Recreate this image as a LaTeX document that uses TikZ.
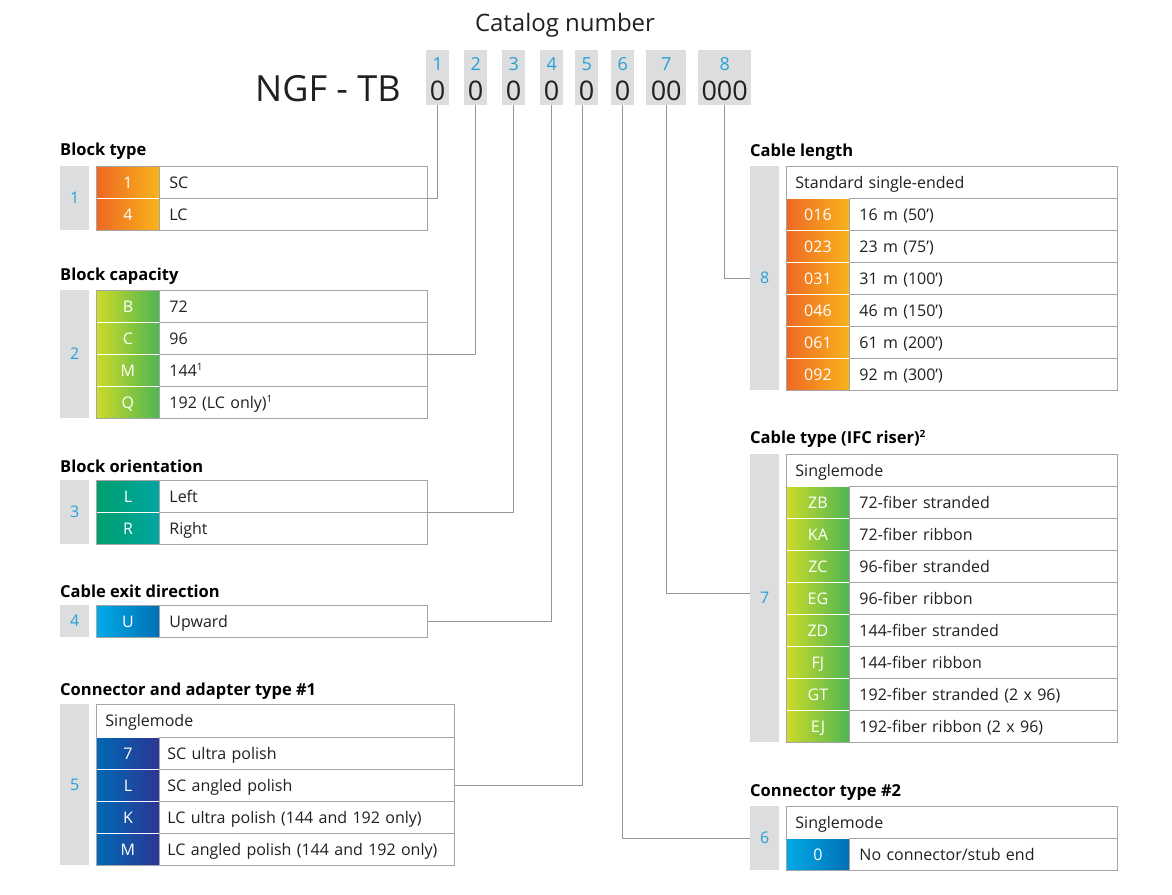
\documentclass[tikz,border=0pt]{standalone}
\usepackage{fontspec}
\setmainfont{Open Sans}
\usetikzlibrary{calc}
\definecolor{stripgray}{RGB}{220,221,222}
\definecolor{numblue}{RGB}{40,160,215}
\definecolor{tblgray}{RGB}{165,165,165}
\definecolor{conngray}{RGB}{150,150,150}
\definecolor{txt}{RGB}{35,31,32}
\definecolor{orL}{RGB}{238,104,36}
\definecolor{orR}{RGB}{249,180,28}
\definecolor{grL}{RGB}{205,219,40}
\definecolor{grR}{RGB}{76,181,84}
\definecolor{teL}{RGB}{0,158,110}
\definecolor{teR}{RGB}{0,166,160}
\definecolor{blL}{RGB}{0,170,230}
\definecolor{blR}{RGB}{0,112,182}
\definecolor{dbL}{RGB}{0,104,180}
\definecolor{dbR}{RGB}{44,54,146}
\tikzset{
  x=1pt, y=-1pt,
  code/.style={anchor=north west, minimum width=63pt, minimum height=32pt, inner sep=0pt,
    text height=12pt, text depth=0pt,
    text=white, font=\fontsize{16}{20}\selectfont, draw=white, line width=0.9pt},
  orange/.style={left color=orL, right color=orR},
  green/.style={left color=grL, right color=grR},
  teal/.style={left color=teL, right color=teR},
  lblue/.style={left color=blL, right color=blR},
  dblue/.style={left color=dbL, right color=dbR},
  descL/.style={anchor=north west, minimum width=268pt, minimum height=32pt, text width=248pt,
    text height=12pt, text depth=0pt,
    inner xsep=10pt, inner ysep=0pt, align=left, draw=tblgray, line width=0.9pt, text=txt,
    font=\fontsize{16}{20}\selectfont},
  descW/.style={descL, minimum width=295pt, text width=279pt, inner xsep=8pt},
  hdr/.style={anchor=north west, minimum height=32pt, inner xsep=9pt, inner ysep=0pt, align=left,
    text height=12pt, text depth=0pt,
    draw=tblgray, line width=0.9pt, text=txt, font=\fontsize{16}{20}\selectfont},
  strip/.style={anchor=north west, fill=stripgray, minimum width=29pt, inner sep=0pt, text=numblue,
    font=\fontsize{16}{20}\selectfont},
  title/.style={anchor=west, inner sep=0pt, text=black, font=\fontsize{16.5}{20}\selectfont\bfseries},
  outline/.style={draw=tblgray, line width=0.9pt},
  conn/.style={draw=conngray, line width=0.9pt},
  box/.style={anchor=north west, fill=stripgray, minimum height=55pt, inner sep=0pt},
  digit/.style={text=numblue, inner sep=0pt, font=\fontsize{18}{20}\selectfont},
  zeros/.style={text=txt, inner sep=0pt, font=\fontsize{27}{30}\selectfont},
}
\newcommand\trow[7]{%
  \node[code,#4] (#1c) at (#2,#3) {#5};
  \node[#7] (#1d) at (#2+63,#3) {#6};}
\newcommand\sups[1]{\textsuperscript{\fontsize{10}{10}\selectfont #1}}
\begin{document}
\begin{tikzpicture}
\useasboundingbox[fill=white] (0,0) rectangle (1172,894);

% header
\node[text=txt, font=\fontsize{24}{28}\selectfont] (cat) at (565,25) {Catalog number};
\node[anchor=west, text=txt, inner sep=0pt, font=\fontsize{36}{40}\selectfont] (ngf) at (255,89) {NGF - TB};
\node[box, minimum width=23pt] (b1) at (426,50) {};
\node[box, minimum width=23pt] (b2) at (464,50) {};
\node[box, minimum width=23pt] (b3) at (502,50) {};
\node[box, minimum width=23pt] (b4) at (540,50) {};
\node[box, minimum width=23pt] (b5) at (575,50) {};
\node[box, minimum width=23pt] (b6) at (611,50) {};
\node[box, minimum width=40pt] (b7) at (646,50) {};
\node[box, minimum width=53pt] (b8) at (698,50) {};
\foreach \i/\z in {1/0,2/0,3/0,4/0,5/0,6/0,7/00,8/000}{
  \node[digit] (n\i) at ($(b\i.north)+(0,14)$) {\i};
  \node[zeros] (z\i) at ($(b\i.north)+(0,41)$) {\z};
}

% 1 Block type
\node[title] (t1) at (60,151) {Block type};
\node[strip, minimum height=64pt] (s1) at (60,166) {1};
\trow{bt1}{96}{166}{orange}{1}{SC}{descL}
\trow{bt2}{96}{198}{orange}{4}{LC}{descL}
\draw[outline] (bt1c.north west) rectangle (bt2d.south east);

% 2 Block capacity
\node[title] (t2) at (60,276) {Block capacity};
\node[strip, minimum height=128pt] (s2) at (60,290) {2};
\trow{bc1}{96}{290}{green}{B}{72}{descL}
\trow{bc2}{96}{322}{green}{C}{96}{descL}
\trow{bc3}{96}{354}{green}{M}{144\sups{1}}{descL}
\trow{bc4}{96}{386}{green}{Q}{192 (LC only)\sups{1}}{descL}
\draw[outline] (bc1c.north west) rectangle (bc4d.south east);

% 3 Block orientation
\node[title] (t3) at (60,466) {Block orientation};
\node[strip, minimum height=64pt] (s3) at (60,480) {3};
\trow{bo1}{96}{480}{teal}{L}{Left}{descL}
\trow{bo2}{96}{512}{teal}{R}{Right}{descL}
\draw[outline] (bo1c.north west) rectangle (bo2d.south east);

% 4 Cable exit direction
\node[title] (t4) at (60,591) {Cable exit direction};
\node[strip, minimum height=32pt] (s4) at (60,605) {4};
\trow{ce1}{96}{605}{lblue}{U}{Upward}{descL}
\draw[outline] (ce1c.north west) rectangle (ce1d.south east);

% 5 Connector and adapter type #1
\node[title] (t5) at (60,691) {Connector and adapter type \#1};
\node[strip, minimum height=161pt] (s5) at (60,704) {5};
\node[hdr, minimum width=358pt, text width=340pt, minimum height=33pt] (h5) at (96,704) {Singlemode};
\trow{ca1}{96}{737}{dblue}{7}{SC ultra polish}{descW}
\trow{ca2}{96}{769}{dblue}{L}{SC angled polish}{descW}
\trow{ca3}{96}{801}{dblue}{K}{LC ultra polish (144 and 192 only)}{descW}
\trow{ca4}{96}{833}{dblue}{M}{LC angled polish (144 and 192 only)}{descW}
\draw[outline] (h5.north west) rectangle (ca4d.south east);

% 8 Cable length
\node[title] (t8) at (750,152) {Cable length};
\node[strip, minimum height=224pt] (s8) at (750,166) {8};
\node[hdr, minimum width=331pt, text width=313pt] (h8) at (786,166) {Standard single-ended};
\trow{cl1}{786}{198}{orange}{016}{16 m (50')}{descL}
\trow{cl2}{786}{230}{orange}{023}{23 m (75')}{descL}
\trow{cl3}{786}{262}{orange}{031}{31 m (100')}{descL}
\trow{cl4}{786}{294}{orange}{046}{46 m (150')}{descL}
\trow{cl5}{786}{326}{orange}{061}{61 m (200')}{descL}
\trow{cl6}{786}{358}{orange}{092}{92 m (300')}{descL}
\draw[outline] (h8.north west) rectangle (cl6d.south east);

% 7 Cable type
\node[title] (t7) at (750,439) {Cable type (IFC riser)\sups{2}};
\node[strip, minimum height=288pt] (s7) at (750,454) {7};
\node[hdr, minimum width=331pt, text width=313pt] (h7) at (786,454) {Singlemode};
\trow{ct1}{786}{486}{green}{ZB}{72-fiber stranded}{descL}
\trow{ct2}{786}{518}{green}{KA}{72-fiber ribbon}{descL}
\trow{ct3}{786}{550}{green}{ZC}{96-fiber stranded}{descL}
\trow{ct4}{786}{582}{green}{EG}{96-fiber ribbon}{descL}
\trow{ct5}{786}{614}{green}{ZD}{144-fiber stranded}{descL}
\trow{ct6}{786}{646}{green}{FJ}{144-fiber ribbon}{descL}
\trow{ct7}{786}{678}{green}{GT}{192-fiber stranded (2 x 96)}{descL}
\trow{ct8}{786}{710}{green}{EJ}{192-fiber ribbon (2 x 96)}{descL}
\draw[outline] (h7.north west) rectangle (ct8d.south east);

% 6 Connector type #2
\node[title] (t6) at (750,792) {Connector type \#2};
\node[strip, minimum height=64pt] (s6) at (750,806) {6};
\node[hdr, minimum width=331pt, text width=313pt] (h6) at (786,806) {Singlemode};
\trow{cn1}{786}{838}{lblue}{0}{No connector/stub end}{descL}
\draw[outline] (h6.north west) rectangle (cn1d.south east);

% connectors
\draw[conn] (b1.south) |- (bt1d.south east);
\draw[conn] (b2.south) |- (bc2d.south east);
\draw[conn] (b3.south) |- (bo1d.south east);
\draw[conn] (b4.south) |- (ce1d.east);
\draw[conn] ($(b5.south)+(-4.5,0)$) |- (ca2d.east);
\draw[conn] (b6.south) |- (s6.west);
\draw[conn] (b7.south) |- ($(s7.west)+(0,-5)$);
\draw[conn] (b8.south) |- (s8.west);
\end{tikzpicture}
\end{document}
